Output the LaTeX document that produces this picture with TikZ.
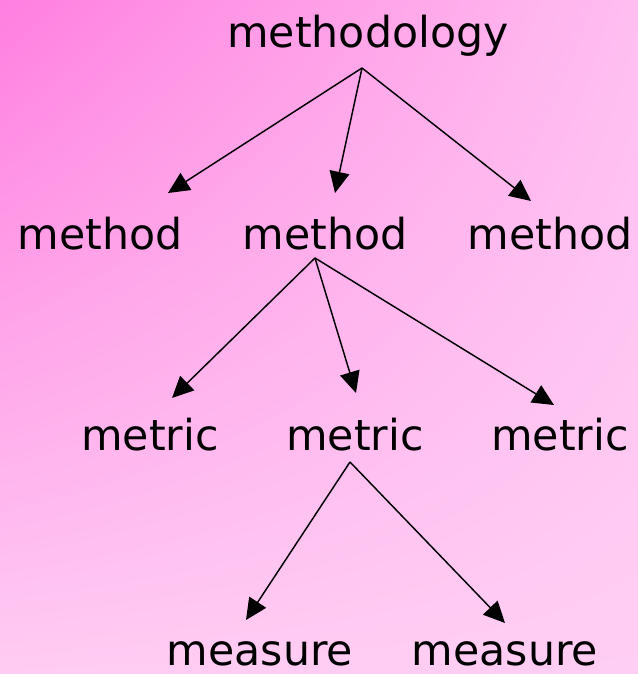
\documentclass[tikz,border=0pt]{standalone}
\usepackage{fontspec}
\setmainfont{DejaVu Sans}
\usetikzlibrary{arrows.meta,shadings}
\definecolor{bgUL}{RGB}{255,127,224}
\definecolor{bgUR}{RGB}{255,190,240}
\definecolor{bgLL}{RGB}{255,204,243}
\definecolor{bgLR}{RGB}{255,206,244}
\tikzset{
  word/.style = {anchor=base, inner sep=0pt, font=\fontsize{32}{38}\selectfont},
  ar/.style   = {-{Triangle[length=16pt,width=15pt]}, line width=1.1pt, black}
}

\begin{document}
\begin{tikzpicture}[x=0.75pt, y=-0.75pt]
% ---------------- background ----------------
\useasboundingbox (0,0) rectangle (638,674);
\shade[upper left=bgUL, upper right=bgUR, lower left=bgLL, lower right=bgLR]
  (0,0) rectangle (638,674);

% ---------------- words ----------------
\node[word] (mdl) at (368, 48) {methodology};
\node[word] (m1)  at (100,249) {method};
\node[word] (m2)  at (325,249) {method};
\node[word] (m3)  at (550,249) {method};
\node[word] (mt1) at (150,450) {metric};
\node[word] (mt2) at (355,450) {metric};
\node[word] (mt3) at (560,450) {metric};
\node[word] (ms1) at (260,665) {measure};
\node[word] (ms2) at (505,665) {measure};

% ---------------- connector ends ----------------
\coordinate (mdl-out) at (362, 68);
\coordinate (m1-in)   at (168,193);
\coordinate (m2-in)   at (335,193);
\coordinate (m3-in)   at (531,201);
\coordinate (m2-out)  at (315,258);
\coordinate (mt1-in)  at (172,398);
\coordinate (mt2-in)  at (356,393);
\coordinate (mt3-in)  at (554,405);
\coordinate (mt2-out) at (350,462);
\coordinate (ms1-in)  at (246,620);
\coordinate (ms2-in)  at (505,623);

% ---------------- edges ----------------
\foreach \t in {m1,m2,m3} \draw[ar] (mdl-out) -- (\t-in);
\foreach \t in {mt1,mt2,mt3} \draw[ar] (m2-out) -- (\t-in);
\foreach \t in {ms1,ms2} \draw[ar] (mt2-out) -- (\t-in);

\end{tikzpicture}
\end{document}
